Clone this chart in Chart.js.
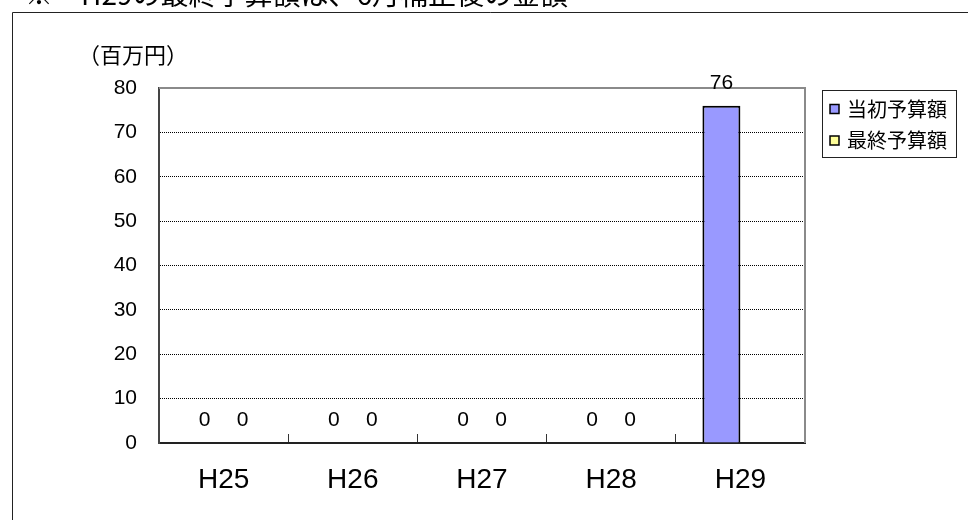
<!DOCTYPE html>
<html><head><meta charset="utf-8">
<script src="https://cdn.jsdelivr.net/npm/chart.js@4.4.1/dist/chart.umd.min.js"></script>
<style>html,body{margin:0;padding:0;background:#fff;}#wrap{width:968px;height:520px;position:relative;}canvas{display:block;}</style>
</head><body><div id="wrap"><canvas id="c" width="968" height="520"></canvas></div>
<script>
const categories = ['H25', 'H26', 'H27', 'H28', 'H29'];
const initialBudget = [0, 0, 0, 0, 76];
const finalBudget = [0, 0, 0, 0, null];
const seriesNames = ['当初予算額', '最終予算額'];
const yTicks = [0, 10, 20, 30, 40, 50, 60, 70, 80];
const titleText = '※　H29の最終予算額は、6月補正後の金額';
const unitText = '（百万円）';

const JP = '"Noto Sans CJK JP", "Noto Sans", sans-serif';
const LAT = '"Liberation Sans", Arial, sans-serif';

const decorPlugin = {
  id: 'decor',
  beforeDraw(chart) {
    const ctx = chart.ctx;
    ctx.save();
    ctx.fillStyle = '#fff';
    ctx.fillRect(0, 0, chart.width, chart.height);
    // outer frame
    ctx.strokeStyle = '#222';
    ctx.lineWidth = 1;
    ctx.beginPath();
    ctx.moveTo(12.5, chart.height);
    ctx.lineTo(12.5, 12.5);
    ctx.lineTo(chart.width, 12.5);
    ctx.stroke();
    // title (cut off at top)
    ctx.fillStyle = '#000';
    ctx.font = '28px ' + JP;
    ctx.textAlign = 'left';
    ctx.textBaseline = 'alphabetic';
    ctx.fillText(titleText, 25, 5);
    // unit
    ctx.font = '22px ' + JP;
    ctx.textBaseline = 'middle';
    ctx.fillText(unitText, 78, 55);
    ctx.restore();
  },
  afterDraw(chart) {
    const ctx = chart.ctx;
    const a = chart.chartArea;
    ctx.save();
    // plot frame top/right
    ctx.strokeStyle = '#8a8a8a';
    ctx.lineWidth = 2;
    ctx.beginPath();
    ctx.moveTo(a.left, a.top);
    ctx.lineTo(a.right, a.top);
    ctx.lineTo(a.right, a.bottom);
    ctx.stroke();
    // data labels
    ctx.fillStyle = '#000';
    ctx.font = '21px ' + LAT;
    ctx.textAlign = 'center';
    ctx.textBaseline = 'middle';
    chart.data.datasets.forEach((ds, di) => {
      const meta = chart.getDatasetMeta(di);
      meta.data.forEach((el, i) => {
        const v = ds.data[i];
        if (v === null || v === undefined) return;
        ctx.fillText(String(v), el.x, el.y - 23);
      });
    });
    // legend
    const lx = a.right + 17, ly = 90, lw = 134, lh = 67;
    ctx.strokeStyle = '#222';
    ctx.lineWidth = 1;
    ctx.strokeRect(lx + 0.5, ly + 0.5, lw, lh);
    ctx.font = '20px ' + JP;
    ctx.textAlign = 'left';
    chart.data.datasets.forEach((ds, di) => {
      const cy = ly + 19 + di * 31.5;
      ctx.fillStyle = ds.backgroundColor;
      ctx.fillRect(lx + 8, cy - 4.5, 9, 9);
      ctx.strokeStyle = '#000';
      ctx.lineWidth = 1.5;
      ctx.strokeRect(lx + 8, cy - 4.5, 9, 9);
      ctx.fillStyle = '#000';
      ctx.fillText(ds.label, lx + 25, cy);
    });
    ctx.restore();
  }
};

new Chart(document.getElementById('c'), {
  type: 'bar',
  data: {
    labels: categories,
    datasets: [
      { label: seriesNames[0], data: initialBudget, backgroundColor: '#9999FF', borderColor: '#000', borderWidth: 2 },
      { label: seriesNames[1], data: finalBudget, backgroundColor: '#FFFF99', borderColor: '#000', borderWidth: 2 }
    ]
  },
  options: {
    responsive: false,
    animation: false,
    devicePixelRatio: 1,
    layout: { padding: { top: 88, right: 163, left: 0, bottom: 0 } },
    datasets: { bar: { categoryPercentage: 0.588, barPercentage: 1.0 } },
    plugins: { legend: { display: false }, title: { display: false }, tooltip: { enabled: false } },
    scales: {
      x: {
        afterFit: s => { s.height = 77; },
        grid: { offset: true, drawOnChartArea: false, drawTicks: true, tickLength: -9, tickColor: '#333', tickWidth: 1, color: '#333' },
        border: { display: true, color: '#222', width: 2 },
        ticks: { color: '#000', font: { family: LAT, size: 28 }, padding: 29, maxRotation: 0 }
      },
      y: {
        min: 0, max: 80,
        afterFit: s => { s.width = 159; },
        afterBuildTicks: s => { s.ticks = yTicks.map(v => ({ value: v })); },
        grid: {
          drawTicks: false,
          lineWidth: 1,
          color: c => (c.tick && (c.tick.value === yTicks[0] || c.tick.value === yTicks[yTicks.length - 1])) ? 'rgba(0,0,0,0)' : '#000'
        },
        border: { display: true, color: '#444', width: 2, dash: [1, 1] },
        ticks: { color: '#000', font: { family: LAT, size: 21 }, padding: 22 }
      }
    }
  },
  plugins: [decorPlugin]
});
</script>
</body></html>
